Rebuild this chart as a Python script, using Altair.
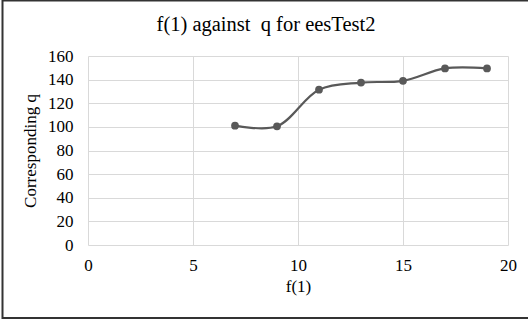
import altair as alt
import pandas as pd

f1_values = [7, 9, 11, 13, 15, 17, 19]
q_values = [101, 100.5, 131.5, 137.5, 139, 149.5, 149.5]
x_ticks = [0, 5, 10, 15, 20]
y_ticks = [0, 20, 40, 60, 80, 100, 120, 140, 160]
title_text = "f(1) against\u00a0 q for eesTest2"

df = pd.DataFrame({"f1": f1_values, "q": q_values})

FONT = "Liberation Serif"
PLOT_LEFT, PLOT_TOP = 88, 56

x_enc = alt.X("f1:Q", title="f(1)",
              scale=alt.Scale(domain=[0, 20], nice=False),
              axis=alt.Axis(values=x_ticks, labelPadding=12, titlePadding=5,
                            labelOverlap=False, labelFlush=False))
y_enc = alt.Y("q:Q", title="Corresponding q",
              scale=alt.Scale(domain=[0, 160], nice=False),
              axis=alt.Axis(values=y_ticks, labelPadding=15,
                            titlePadding=8, labelOverlap=False, labelFlush=False))

base = alt.Chart(df).encode(x=x_enc, y=y_enc)

line = base.mark_line(color="#595959", strokeWidth=2.2, interpolate="catmull-rom")
points = base.mark_circle(color="#595959", opacity=1, size=60)

one = pd.DataFrame({"t": [title_text]})
border = alt.Chart(one).mark_rect(
    filled=False, stroke="#333333", strokeWidth=2
).encode(
    x=alt.value(2.5 - PLOT_LEFT), x2=alt.value(540 - PLOT_LEFT),
    y=alt.value(0.5 - PLOT_TOP), y2=alt.value(318 - PLOT_TOP)
)
title = alt.Chart(one).mark_text(
    font=FONT, fontSize=20.5, color="#000000", align="center", baseline="alphabetic"
).encode(
    text="t:N", x=alt.value(266 - PLOT_LEFT), y=alt.value(30.7 - PLOT_TOP)
)

chart = alt.layer(line, points, border, title).properties(
    width=420, height=189,
    background="white",
    autosize=alt.AutoSizeParams(type="none"),
    padding={"left": PLOT_LEFT, "top": PLOT_TOP, "right": 20, "bottom": 79},
).configure_view(stroke=None).configure_axis(
    labelFont=FONT, titleFont=FONT, labelFontSize=17, titleFontSize=17,
    labelColor="#000000", titleColor="#000000", titleFontWeight="normal",
    domain=False, ticks=False, grid=True, gridColor="#d9d9d9", gridWidth=1
)

chart.save("out.html", embed_options={"renderer": "svg", "actions": False})
